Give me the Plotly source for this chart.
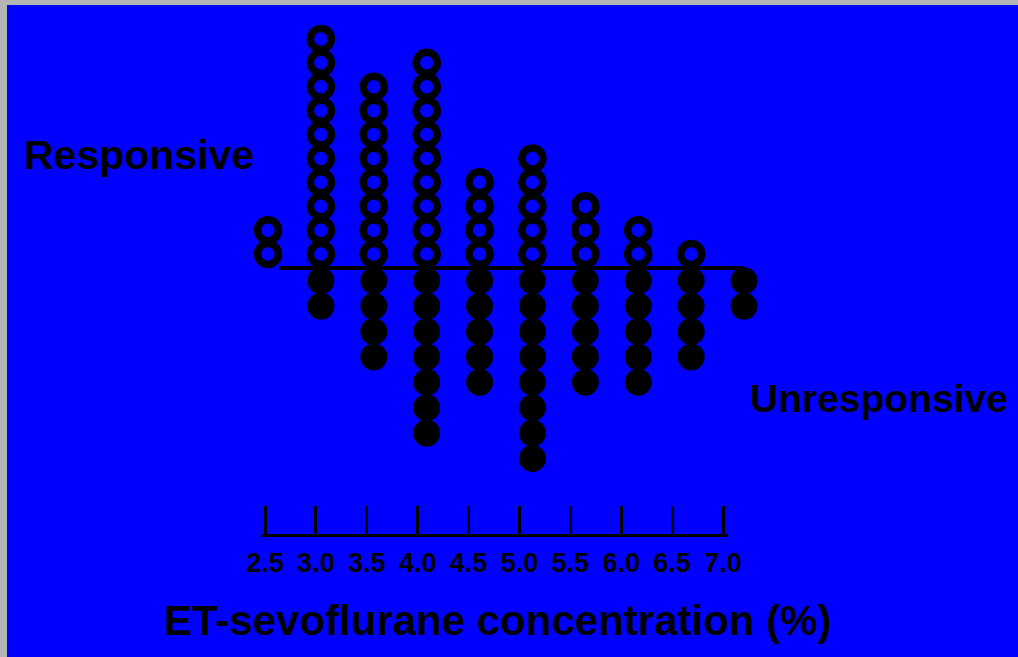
import plotly.graph_objects as go

# Data: ET-sevoflurane concentration (%) and number of subjects at each level
concentration = [2.5, 3.0, 3.5, 4.0, 4.5, 5.0, 5.5, 6.0, 6.5, 7.0]
responsive = [2, 10, 8, 9, 4, 5, 3, 2, 1, 0]
unresponsive = [0, 2, 4, 7, 5, 8, 5, 5, 4, 2]
tick_labels = ["2.5", "3.0", "3.5", "4.0", "4.5", "5.0", "5.5", "6.0", "6.5", "7.0"]

BLUE = "#0000FF"
GREY = "#B4B4B4"
FONT = "Liberation Sans, Arial, Helvetica, sans-serif"

# stack positions: each subject is one dot, stacked away from the dividing line
ox, oy, fx, fy = [], [], [], []
for c, nr, nu in zip(concentration, responsive, unresponsive):
    for k in range(1, nr + 1):
        ox.append(c)
        oy.append(k - 0.5)
    for k in range(1, nu + 1):
        fx.append(c)
        fy.append(-(k - 0.5))

fig = go.Figure()
fig.add_trace(go.Scatter(
    x=ox, y=oy, mode="markers", xaxis="x", yaxis="y",
    marker=dict(symbol="circle-open", size=21, color="black",
                line=dict(width=7.5, color="black")),
    showlegend=False, hoverinfo="skip", cliponaxis=False))
fig.add_trace(go.Scatter(
    x=fx, y=fy, mode="markers", xaxis="x", yaxis="y2",
    marker=dict(symbol="circle", size=27, color="black",
                line=dict(width=0)),
    showlegend=False, hoverinfo="skip", cliponaxis=False))

# dividing line between responsive and unresponsive
fig.add_shape(type="line", xref="x", yref="y2",
              x0=concentration[0] + 0.11, x1=concentration[-1], y0=0, y1=0,
              line=dict(color="black", width=4), layer="below")

# an invisible trace to activate the ruler (x2 / y3 subplot)
fig.add_trace(go.Scatter(x=[concentration[0]], y=[0.5], xaxis="x2", yaxis="y3",
                         mode="markers", marker=dict(opacity=0),
                         showlegend=False, hoverinfo="skip"))

fig.update_layout(
    template="none",
    width=1018, height=657,
    margin=dict(l=7, r=0, t=5, b=0, pad=0),
    paper_bgcolor=GREY, plot_bgcolor=BLUE,
    xaxis=dict(range=[0.0326, 9.5903], domain=[0, 1], anchor="y", visible=False,
               showgrid=False, zeroline=False, automargin=False),
    yaxis=dict(range=[-16.36, 10.92], domain=[0, 1], anchor="x", visible=False,
               showgrid=False, zeroline=False, automargin=False),
    yaxis2=dict(range=[-15.315, 10.354], overlaying="y", anchor="x", visible=False,
                showgrid=False, zeroline=False, automargin=False),
    xaxis2=dict(
        domain=[(262 - 7) / 1011, (728 - 7) / 1011],
        range=[2.4705, 7.0491],
        anchor="y3", side="bottom",
        showline=True, linecolor="black", linewidth=3,
        ticks="inside", ticklen=28, tickwidth=3, tickcolor="black",
        tickvals=concentration, ticktext=tick_labels,
        tickfont=dict(family=FONT, size=27, color="black", weight="bold"),
        showgrid=False, zeroline=False, ticklabelstandoff=3, automargin=False,
    ),
    yaxis3=dict(domain=[(657 - 534) / 652, (657 - 500) / 652], anchor="x2",
                range=[0, 1], visible=False, showgrid=False, zeroline=False,
                automargin=False),
    annotations=[
        dict(text="Responsive", xref="paper", yref="paper",
             x=(22 - 7) / 1011, y=(657 - 155) / 652, xanchor="left", yanchor="middle",
             showarrow=False,
             font=dict(family=FONT, size=41, color="black", weight="bold")),
        dict(text="Unresponsive", xref="paper", yref="paper",
             x=(748 - 7) / 1011, y=(657 - 398) / 652, xanchor="left", yanchor="middle",
             showarrow=False,
             font=dict(family=FONT, size=39, color="black", weight="bold")),
        dict(text="ET-sevoflurane concentration (%)", xref="paper", yref="paper",
             x=(497.5 - 7) / 1011, y=(657 - 620) / 652, xanchor="center", yanchor="middle",
             showarrow=False,
             font=dict(family=FONT, size=42, color="black", weight="bold")),
    ],
)

fig.write_html("out.html")
